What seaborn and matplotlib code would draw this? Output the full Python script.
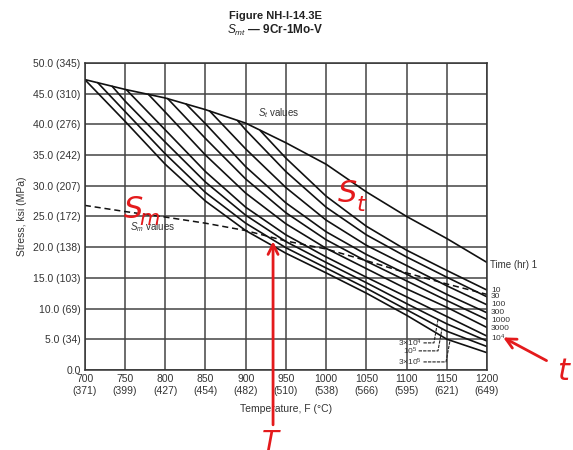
import matplotlib
matplotlib.use("Agg")
import matplotlib.pyplot as plt
import seaborn as sns
import pandas as pd

# Temperatures (F) of the read points
temps = [700, 750, 800, 850, 900, 950, 1000, 1050, 1100, 1150, 1200]

# St envelope (1 hr), ksi
st_1 = [47.3, 45.7, 44.3, 42.4, 40.2, 37.0, 33.5, 29.0, 25.0, 21.4, 17.5]

# longer-time isochronous curves: point where each leaves the 1 hr curve,
# then the stress at every grid temperature above it
branch_t = [918, 890, 855, 826, 803, 779, 752, 734, 716, 700]
branch_s = [39.0, 40.6, 42.2, 43.3, 44.2, 44.9, 45.6, 46.2, 46.8, 47.3]
st_10 = [34.5, 28.3, 23.4, 19.5, 16.2, 13.0]
st_30 = [39.1, 32.3, 26.5, 22.0, 18.4, 15.1, 11.9]
st_100 = [36.0, 29.7, 24.4, 20.3, 17.0, 13.7, 10.6]
st_300 = [40.1, 33.1, 27.2, 22.5, 18.8, 15.6, 12.3, 9.3]
st_1000 = [37.7, 31.1, 25.6, 21.2, 17.7, 14.5, 11.3, 8.2]
st_3000 = [42.0, 35.0, 28.8, 23.8, 19.8, 16.5, 13.2, 10.2, 6.9]
st_1e4 = [39.1, 32.3, 26.5, 22.0, 18.4, 15.1, 11.9, 8.7, 5.5]
st_3e4 = [43.8, 37.1, 30.6, 25.2, 20.9, 17.5, 14.2, 10.8, 7.5, 4.7]
st_1e5 = [42.1, 35.2, 28.9, 23.9, 19.9, 16.6, 13.3, 9.8, 6.3, 3.8]
st_3e5 = [40.5, 33.5, 27.5, 22.7, 19.0, 15.8, 12.5, 8.9, 5.0, 2.8]

# Sm values (dashed), ksi
sm = [26.8, 25.8, 24.9, 23.9, 22.7, 21.0, 19.7, 17.8, 15.8, 14.0, 12.3]

curve_names = ["10", "30", "100", "300", "1000", "3000",
               "1e4", "3e4", "1e5", "3e5"]
curve_values = [st_10, st_30, st_100, st_300, st_1000, st_3000,
                st_1e4, st_3e4, st_1e5, st_3e5]

x_ticks = [700, 750, 800, 850, 900, 950, 1000, 1050, 1100, 1150, 1200]
x_celsius = [371, 399, 427, 454, 482, 510, 538, 566, 595, 621, 649]
y_ticks = [0, 5, 10, 15, 20, 25, 30, 35, 40, 45, 50]
y_mpa = [None, 34, 69, 103, 138, 172, 207, 242, 276, 310, 345]

# right-hand time labels and their stress positions
time_labels = ["10", "30", "100", "300", "1000", "3000", "10$^4$"]
time_label_y = [13.0, 11.9, 10.6, 9.4, 8.1, 6.8, 5.2]

rows = [{"curve": "1", "temp": t, "stress": s} for t, s in zip(temps, st_1)]
for name, tb, sb, vals in zip(curve_names, branch_t, branch_s, curve_values):
    ts = [tb] + [t for t in temps if t > tb]
    ss = [sb] + vals
    for t, s in zip(ts, ss):
        rows.append({"curve": name, "temp": t, "stress": s})
df = pd.DataFrame(rows)
df_sm = pd.DataFrame({"temp": temps, "stress": sm})

sns.set_theme(style="whitegrid")
plt.rcParams["font.family"] = ["Liberation Sans Narrow", "Liberation Sans", "DejaVu Sans"]
plt.rcParams["mathtext.fontset"] = "custom"
plt.rcParams["mathtext.rm"] = "Liberation Sans"
plt.rcParams["mathtext.it"] = "Liberation Sans:italic"
plt.rcParams["mathtext.bf"] = "Liberation Sans:bold"

fig = plt.figure(figsize=(5.73, 4.5), dpi=100)
ax = fig.add_axes([0.148, 0.178, 0.702, 0.682])

sns.lineplot(data=df, x="temp", y="stress", units="curve", estimator=None,
             sort=False, color="#111111", lw=1.2, ax=ax, legend=False)
sns.lineplot(data=df_sm, x="temp", y="stress", color="#111111", lw=1.1,
             linestyle=(0, (4, 2.5)), ax=ax, legend=False)

ax.set_xlim(700, 1200)
ax.set_ylim(0, 50)
ax.set_xticks(x_ticks)
ax.set_xticklabels([f"{f}\n({c})" for f, c in zip(x_ticks, x_celsius)])
ax.set_yticks(y_ticks)
ax.set_yticklabels([f"{v:.1f}" if m is None else f"{v:.1f} ({m})"
                    for v, m in zip(y_ticks, y_mpa)])
ax.tick_params(length=0, labelsize=7.5, labelcolor="#333333", pad=3)
ax.grid(True, color="#444444", lw=1.1)
for sp in ax.spines.values():
    sp.set_color("#333333")
    sp.set_linewidth(1.1)
ax.set_xlabel("Temperature, F (\u00b0C)", fontsize=7.5, color="#333333", labelpad=6)
ax.set_ylabel("Stress, ksi (MPa)", fontsize=7.5, color="#333333", labelpad=4)

# title
fig.text(0.48, 0.965, "Figure NH-I-14.3E", ha="center", va="center",
         fontsize=8, fontweight="bold", color="#222222")
fig.text(0.48, 0.933, "$S_{mt}$ \u2014 9Cr-1Mo-V", ha="center", va="center",
         fontsize=8.5, fontweight="bold", color="#222222")

# in-plot labels
ax.text(915, 41.9, "$S_t$ values", fontsize=7, color="#333333", va="center")
ax.text(756, 23.3, "$S_m$ values", fontsize=7, color="#333333", va="center")
ax.text(1204, 17.1, "Time (hr) 1", fontsize=7, color="#333333", va="center",
        clip_on=False)
for lab, yv in zip(time_labels, time_label_y):
    ax.text(1205, yv, lab, fontsize=6, color="#333333", va="center", clip_on=False)

# leader labels for the long-time curves
leaders = [("3\u00d710$^4$", 1119, 4.4, 1139, 8.2),
           ("10$^5$", 1113, 3.1, 1144, 6.7),
           ("3\u00d710$^5$", 1119, 1.3, 1154, 4.8)]
for lab, tx, ty, px, py in leaders:
    ax.text(tx, ty, lab, fontsize=6, color="#333333", va="center", ha="right")
    ax.plot([tx + 2, px - 5, px], [ty, ty, py], color="#222222", lw=0.8,
            linestyle=(0, (3, 1)))

# red hand annotations
red = "#e41a1c"
hand = dict(color=red, fontstyle="italic", family=["DejaVu Sans"], clip_on=False)
ax.text(760, 26.2, "S", fontsize=22, ha="center", va="center", **hand)
ax.text(780, 24.6, "m", fontsize=15, ha="center", va="center", **hand)
ax.text(1027, 28.7, "S", fontsize=22, ha="center", va="center", **hand)
ax.text(1043, 26.8, "t", fontsize=16, ha="center", va="center", **hand)
ax.annotate("", xy=(934, 21.4), xytext=(934, -9.4),
            arrowprops=dict(arrowstyle="->", color=red, lw=2, mutation_scale=18),
            annotation_clip=False)
ax.text(930, -11.9, "T", fontsize=20, ha="center", va="center", **hand)
ax.annotate("", xy=(1217, 5.5), xytext=(1277, 1.3),
            arrowprops=dict(arrowstyle="->", color=red, lw=2, mutation_scale=18),
            annotation_clip=False)
ax.text(1294, -0.3, "t", fontsize=22, ha="center", va="center", **hand)

fig.savefig("out.png", dpi=100)
